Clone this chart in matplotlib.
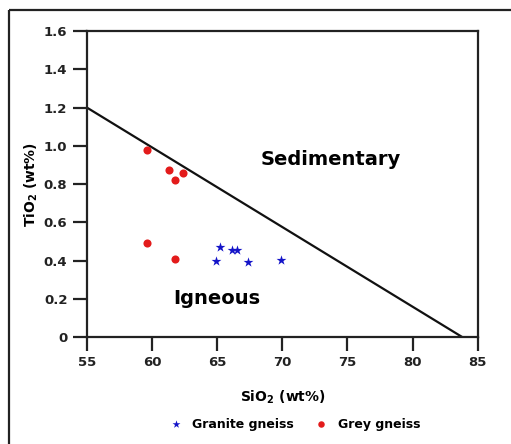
import numpy as np
import matplotlib
matplotlib.use("Agg")
import matplotlib.pyplot as plt
from matplotlib.lines import Line2D

plt.rcParams['font.family'] = ['DejaVu Sans']
plt.rcParams['font.weight'] = 'bold'

# Granite gneiss samples (SiO2, TiO2 in wt%)
granite_sio2 = [65.2, 66.1, 66.5, 64.9, 67.4, 69.9]
granite_tio2 = [0.47, 0.455, 0.455, 0.40, 0.39, 0.405]

# Grey gneiss samples
grey_sio2 = [59.6, 61.3, 61.8, 62.4, 59.6, 61.8]
grey_tio2 = [0.98, 0.875, 0.82, 0.86, 0.49, 0.41]

# Igneous / sedimentary boundary
boundary_sio2 = [55, 83.8]
boundary_tio2 = [1.2, 0.0]

x_ticks = [55, 60, 65, 70, 75, 80, 85]
y_ticks = [0, 0.2, 0.4, 0.6, 0.8, 1.0, 1.2, 1.4, 1.6]
y_labels = ['0', '0.2', '0.4', '0.6', '0.8', '1.0', '1.2', '1.4', '1.6']

fig = plt.figure(figsize=(5.11, 4.44), dpi=100)
ax = fig.add_axes([0.170, 0.241, 0.765, 0.689])

# outer frame: top and left edges of the panel border
fx, fy = 9 / 511, 1 - 10 / 444
fig.add_artist(Line2D([fx, 1.02], [fy, fy], transform=fig.transFigure,
                      color='#222222', linewidth=1.6, solid_capstyle='butt'))
fig.add_artist(Line2D([fx, fx], [-0.02, fy], transform=fig.transFigure,
                      color='#222222', linewidth=1.6, solid_capstyle='butt'))

ax.plot(boundary_sio2, boundary_tio2, color='#111111', linewidth=1.6, zorder=2)

ax.scatter(granite_sio2, granite_tio2, marker='*', s=55, color='#1414c8',
           linewidths=0, label='Granite gneiss', zorder=3)
ax.scatter(grey_sio2, grey_tio2, marker='o', s=34, color='#e31b1b',
           linewidths=0, label='Grey gneiss', zorder=3)

ax.text(73.7, 0.93, 'Sedimentary', fontsize=14, fontweight='bold',
        ha='center', va='center')
ax.text(65.0, 0.2, 'Igneous', fontsize=14, fontweight='bold',
        ha='center', va='center')

ax.set_xlim(55, 85)
ax.set_ylim(0, 1.6)
ax.set_xticks(x_ticks)
ax.set_yticks(y_ticks)
ax.set_yticklabels(y_labels)
for s in ax.spines.values():
    s.set_linewidth(1.6)
    s.set_color('#222222')
ax.tick_params(axis='both', direction='out', length=10, width=1.6,
               colors='#222222', labelsize=9.5, pad=4)
for lab in ax.get_xticklabels() + ax.get_yticklabels():
    lab.set_fontweight('bold')
    lab.set_color('#222222')

ax.set_xlabel(r'SiO$_{\mathbf{2}}$ (wt%)', fontsize=10, fontweight='bold',
              labelpad=14)
ax.set_ylabel(r'TiO$_{\mathbf{2}}$ (wt%)', fontsize=10, fontweight='bold',
              labelpad=3)

fig.legend(loc='center', bbox_to_anchor=(0.571, 0.045), ncol=2, frameon=False,
           prop={'weight': 'bold', 'size': 9}, handletextpad=0.3,
           columnspacing=1.2, markerscale=0.8)

fig.savefig('out.png', dpi=100, facecolor='white')
